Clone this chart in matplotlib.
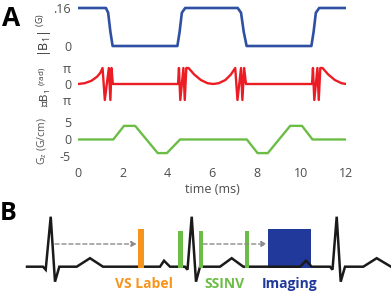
import numpy as np
import matplotlib
matplotlib.use('Agg')
import matplotlib.pyplot as plt

plt.rcParams['font.family'] = ['Open Sans', 'DejaVu Sans']
plt.rcParams['mathtext.default'] = 'regular'

# ---- Panel A data (time in ms) ----
b1_t = [0, 1.25, 1.35, 1.45, 1.55, 4.45, 4.55, 4.65, 4.8, 7.15, 7.3, 7.42, 7.55, 10.45, 10.55, 10.65, 10.8, 12]
b1_amp = [0.16, 0.16, 0.14, 0.06, 0.0, 0.0, 0.06, 0.14, 0.16, 0.16, 0.14, 0.06, 0.0, 0.0, 0.06, 0.14, 0.16, 0.16]

# phase of B1 in units of pi
ph_t = [0, 0.3, 0.6, 0.85, 1.0, 1.1, 1.2, 1.38, 1.45, 1.5, 1.56,
        4.48, 4.52, 4.58, 4.72, 4.78, 4.85, 4.95,
        5.2, 5.5, 5.8, 6.05, 6.3, 6.6, 6.85, 7.04,
        7.14, 7.3, 7.36, 7.44, 7.52,
        10.48, 10.52, 10.58, 10.72, 10.78, 10.85, 10.95,
        11.2, 11.5, 11.8, 12]
ph_val = [0, 0.05, 0.2, 0.45, 0.7, 1.0, -1.0, 1.0, -1.0, 1.0, 0,
          0, 1.0, -1.0, 1.0, -1.0, 1.0, 1.0,
          0.6, 0.25, 0.05, 0.0, 0.05, 0.25, 0.6, 1.0,
          -1.0, 1.0, -1.0, 1.0, 0,
          0, 1.0, -1.0, 1.0, -1.0, 1.0, 1.0,
          0.6, 0.25, 0.05, 0.0]

gz_t = [0, 1.58, 2.06, 2.56, 3.57, 3.98, 4.57, 7.56, 8.04, 8.5, 9.5, 10.03, 10.5, 12]
gz_val = [0, 0, 4, 4, -4, -4, 0, 0, -4, -4, 4, 4, 0, 0]

# ---- Panel B data (schematic ECG, arbitrary units) ----
ecg_t = [27, 43, 45.7, 50.7, 55, 59.3, 76.7, 90, 103, 160, 164, 170, 185, 187.5, 191.7, 196, 200,
         220, 231.7, 243.3, 300, 306, 311.7, 330, 332.5, 336.7, 340.7, 345, 363.3, 376.7, 391]
ecg_v = [0, 0, -3, 50, -15, 0, 0, 8.5, 0, 0, 6, 0, 0, -3, 50, -15, 0,
         0, 8.5, 0, 0, 6, 0, 0, -3, 50, -15, 0, 0, 8.5, 0]
vs_label_t = [141]
ssinv_t = [180.5, 201, 246.7]
imaging_t = [268, 311]
arrows_t = [(55, 137), (203, 267)]

W, H = 391, 296
fig = plt.figure(figsize=(W / 100, H / 100), dpi=100)

def ax_px(x0, y0, x1, y1):
    return fig.add_axes([x0 / W, 1 - y1 / H, (x1 - x0) / W, (y1 - y0) / H])

tick_c = '#4d4d4d'
blue = '#2f4fa2'
red = '#ec1c24'
green = '#6cbd45'
orange = '#f7941d'
navy = '#21399b'

def clean(ax):
    for s in ax.spines.values():
        s.set_visible(False)
    ax.tick_params(length=0, labelsize=9, colors=tick_c, pad=5)
    ax.set_xlim(0, 12)

ax1 = ax_px(78, 4, 346, 50)
ax1.plot(b1_t, b1_amp, color=blue, lw=1.9, solid_joinstyle='round')
clean(ax1)
ax1.set_ylim(-0.0168, 0.1768)
ax1.set_yticks([0, 0.16], ['0', '.16'])
ax1.set_xticks([])

ax2 = ax_px(78, 62, 346, 106)
ax2.plot(ph_t, np.array(ph_val) * np.pi, color=red, lw=1.7)
clean(ax2)
ax2.set_ylim(-np.pi * 1.375, np.pi * 1.375)
ax2.set_yticks([-np.pi, 0, np.pi], ['π', '0', 'π'])
ax2.set_xticks([])

ax3 = ax_px(78, 116, 346, 160)
ax3.plot(gz_t, gz_val, color=green, lw=1.7)
clean(ax3)
ax3.set_ylim(-6.03, 6.9)
ax3.set_yticks([-5, 0, 5], ['-5', '0', '5'])
ax3.set_xticks(range(0, 13, 2))
ax3.tick_params(axis='x', pad=5)
ax3.set_xlabel('time (ms)', fontsize=9, color=tick_c, labelpad=2)

fig.text(45 / W, 1 - 35 / H, r'|B$_1$| $^{(G)}$', rotation=90, ha='center', va='center',
         fontsize=9, color='#333333')
fig.text(45 / W, 1 - 87 / H, r'∠B$_1$ $^{(rad)}$', rotation=90, ha='center', va='center',
         fontsize=8.2, color='#333333')
fig.text(42 / W, 1 - 141 / H, r'G$_z$ (G/cm)', rotation=90, ha='center', va='center',
         fontsize=7.5, color='#555555')

fig.text(2 / W, 1 - 19 / H, 'A', fontsize=19, fontweight='bold', va='center', ha='left')
fig.text(0 / W, 1 - 214 / H, 'B', fontsize=18, fontweight='bold', va='center', ha='left')

# ---- Panel B ----
axb = fig.add_axes([0, 0, 1, 1])
axb.set_xlim(0, W)
axb.set_ylim(-(H - 266.7), 266.7)
axb.axis('off')
axb.patch.set_alpha(0)

axb.add_patch(plt.Rectangle((imaging_t[0], -1), imaging_t[1] - imaging_t[0], 38.7,
                            facecolor=navy, edgecolor='none', zorder=1))
axb.plot(ecg_t, ecg_v, color='#1a1a1a', lw=1.8, zorder=2, solid_joinstyle='miter')
for t in vs_label_t:
    axb.add_patch(plt.Rectangle((t - 3, -1), 6, 38.7, facecolor=orange, edgecolor='none', zorder=3))
for t in ssinv_t:
    axb.add_patch(plt.Rectangle((t - 2.2, -1), 4.4, 36.7, facecolor=green, edgecolor='none', zorder=3))
for a, b in arrows_t:
    axb.annotate('', xy=(b, 22.7), xytext=(a, 22.7),
                 arrowprops=dict(arrowstyle='-|>', color='#8c8c8c', lw=1.0, ls=(0, (3, 2)),
                                 mutation_scale=8, shrinkA=0, shrinkB=0))

axb.text(144, -17.5, 'VS Label', color=orange, fontweight='bold', fontsize=10, ha='center', va='center')
axb.text(224, -17.5, 'SSINV', color=green, fontweight='bold', fontsize=10, ha='center', va='center')
axb.text(290, -17.5, 'Imaging', color=navy, fontweight='bold', fontsize=10, ha='center', va='center')

fig.savefig('out.png', dpi=100)
